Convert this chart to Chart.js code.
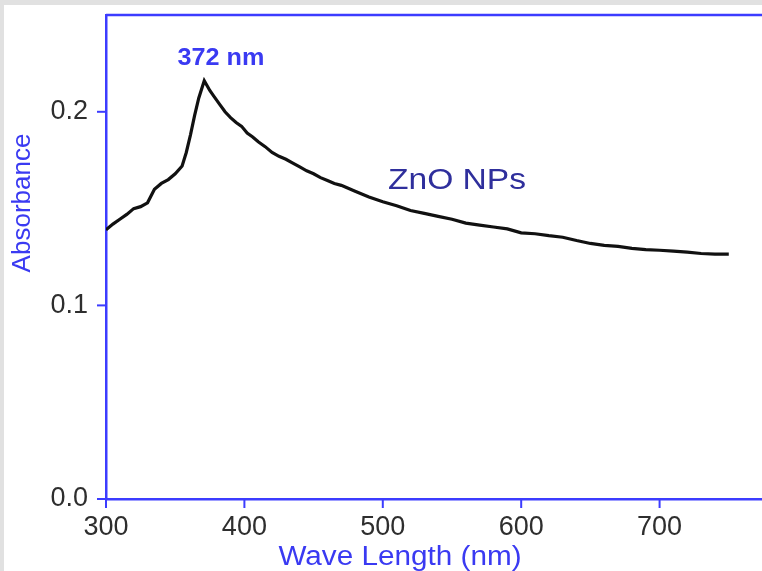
<!DOCTYPE html>
<html>
<head>
<meta charset="utf-8">
<script src="https://cdn.jsdelivr.net/npm/chart.js@4"></script>
<style>
  html, body { margin: 0; padding: 0; background: #e1e1e1; }
  #wrap { width: 762px; height: 571px; position: relative; }
</style>
</head>
<body>
<div id="wrap"><canvas id="uvChart" width="762" height="571"></canvas></div>
<script>
// UV-vis spectrum
const wavelengths = [300, 305, 310, 315, 320, 325, 330, 335, 340, 345, 350, 355, 358, 361, 364, 367, 371,
  375, 378, 382, 386, 390, 394, 398, 402, 406, 410, 415, 420, 425, 430, 435, 440, 445, 450, 455, 460,
  465, 470, 475, 480, 490, 500, 510, 520, 530, 540, 550, 560, 570, 580, 590, 600, 610, 620, 630, 640,
  650, 660, 670, 680, 690, 700, 710, 720, 730, 740, 750];
const absorbance = [0.139, 0.142, 0.1445, 0.147, 0.150, 0.151, 0.153, 0.160, 0.163, 0.165, 0.168, 0.172,
  0.179, 0.188, 0.198, 0.207, 0.216, 0.211, 0.208, 0.204, 0.200, 0.197, 0.1945, 0.1925, 0.189, 0.187,
  0.1845, 0.182, 0.179, 0.177, 0.1755, 0.1735, 0.1715, 0.1695, 0.168, 0.166, 0.1645, 0.163, 0.162,
  0.1605, 0.159, 0.156, 0.1535, 0.1515, 0.149, 0.1475, 0.146, 0.1445, 0.1425, 0.1415, 0.1405, 0.1395,
  0.1375, 0.137, 0.136, 0.1352, 0.1335, 0.132, 0.131, 0.1305, 0.1295, 0.1288, 0.1285, 0.128, 0.1275,
  0.1268, 0.1265, 0.1265];
const xMajorTicks = [300, 400, 500, 600, 700];
const yMajorTicks = [0.0, 0.1, 0.2];
const peakLabel = '372 nm';
const seriesLabel = 'ZnO NPs';
const xTitle = 'Wave Length (nm)';
const yTitle = 'Absorbance';

const axisBlue = '#3c3cff';
const textBlue = '#3a3af2';
const tickGray = '#2e2e2e';
const fontFamily = '"Liberation Sans", Arial, sans-serif';

const isMajor = (list, v) => list.some(m => Math.abs(m - v) < 1e-6);

// text a bit wider than the font, like the scanned figure
function wideText(ctx, text, x, y, stretch) {
  ctx.save();
  ctx.translate(x, y);
  ctx.scale(stretch, 1);
  ctx.fillText(text, 0, 0);
  ctx.restore();
}

const framePlugin = {
  id: 'frame',
  beforeDraw(chart) {
    const ctx = chart.ctx;
    ctx.save();
    ctx.fillStyle = '#e1e1e1';
    ctx.fillRect(0, 0, chart.width, chart.height);
    ctx.fillStyle = '#ffffff';
    ctx.fillRect(4, 5, chart.width - 4, chart.height - 5);
    ctx.restore();
  },
  afterDraw(chart) {
    const ctx = chart.ctx;
    const area = chart.chartArea;
    const xs = chart.scales.x;
    const ys = chart.scales.y;
    ctx.save();
    ctx.strokeStyle = axisBlue;
    ctx.lineWidth = 2.5;
    // top frame line
    ctx.beginPath();
    ctx.moveTo(area.left, area.top);
    ctx.lineTo(area.right, area.top);
    ctx.stroke();
    // tick marks, long for labelled ones
    ctx.lineWidth = 2;
    xs.ticks.forEach(t => {
      const px = xs.getPixelForValue(t.value);
      const len = isMajor(xMajorTicks, t.value) ? 9 : 4;
      ctx.beginPath();
      ctx.moveTo(px, area.bottom);
      ctx.lineTo(px, area.bottom + len);
      ctx.stroke();
    });
    ys.ticks.forEach(t => {
      const py = ys.getPixelForValue(t.value);
      const len = isMajor(yMajorTicks, t.value) ? 9 : 4;
      ctx.beginPath();
      ctx.moveTo(area.left, py);
      ctx.lineTo(area.left - len, py);
      ctx.stroke();
    });

    // texts
    ctx.textAlign = 'center';
    ctx.textBaseline = 'middle';
    ctx.fillStyle = textBlue;
    ctx.font = 'bold 24px ' + fontFamily;
    wideText(ctx, peakLabel, 221, 58, 1.05);

    ctx.fillStyle = '#2f2f9c';
    ctx.font = '30px ' + fontFamily;
    wideText(ctx, seriesLabel, 457, 181, 1.12);

    ctx.fillStyle = textBlue;
    ctx.font = '27px ' + fontFamily;
    wideText(ctx, xTitle, 400, 558, 1.1);

    ctx.translate(23, 203);
    ctx.rotate(-Math.PI / 2);
    ctx.font = '26px ' + fontFamily;
    ctx.fillText(yTitle, 0, 0);
    ctx.restore();
  }
};

new Chart(document.getElementById('uvChart'), {
  type: 'line',
  data: {
    datasets: [
      {
        label: seriesLabel,
        data: wavelengths.map((w, i) => ({ x: w, y: absorbance[i] })),
        borderColor: '#111111',
        borderWidth: 3.2,
        pointRadius: 0,
        tension: 0,
        fill: false
      }
    ]
  },
  options: {
    responsive: false,
    animation: false,
    layout: { padding: { top: 15, right: 0, left: 0, bottom: 0 } },
    plugins: {
      legend: { display: false },
      tooltip: { enabled: false }
    },
    scales: {
      x: {
        type: 'linear',
        min: 300,
        max: 774,
        afterFit(scale) { scale.height = 72; },
        grid: { display: true, drawOnChartArea: false, drawTicks: true, tickLength: 9, tickColor: 'rgba(0,0,0,0)' },
        border: { display: true, color: axisBlue, width: 2.5 },
        ticks: {
          stepSize: 50,
          includeBounds: false,
          maxRotation: 0,
          autoSkip: false,
          padding: 3,
          color: tickGray,
          font: { family: fontFamily, size: 27 },
          callback: v => (isMajor(xMajorTicks, v) ? String(v) : null)
        }
      },
      y: {
        min: 0,
        max: 0.25,
        afterFit(scale) {
          scale.width = 106;
          scale.paddingTop = 0;
          scale.paddingBottom = 0;
        },
        grid: { display: true, drawOnChartArea: false, drawTicks: true, tickLength: 9, tickColor: 'rgba(0,0,0,0)' },
        border: { display: true, color: axisBlue, width: 2.5 },
        ticks: {
          stepSize: 0.05,
          autoSkip: false,
          padding: 9,
          color: tickGray,
          font: { family: fontFamily, size: 27 },
          callback: v => (isMajor(yMajorTicks, v) ? v.toFixed(1) : null)
        }
      }
    }
  },
  plugins: [framePlugin]
});
</script>
</body>
</html>
